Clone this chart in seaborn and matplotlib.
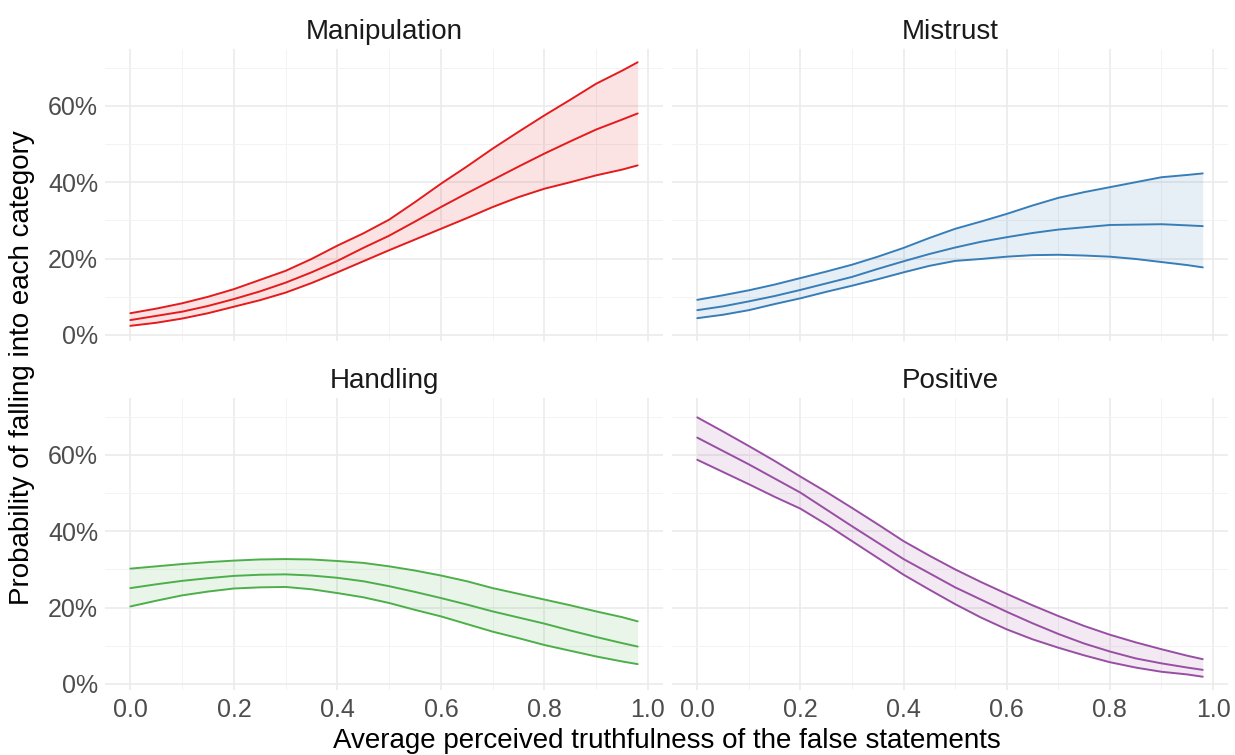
import numpy as np
import pandas as pd
import matplotlib
matplotlib.use("Agg")
import matplotlib.pyplot as plt
from matplotlib.ticker import FixedLocator
import seaborn as sns

# ---- data ----
x_vals = [0.0, 0.05, 0.1, 0.15, 0.2, 0.25, 0.3, 0.35, 0.4, 0.45, 0.5,
          0.55, 0.6, 0.65, 0.7, 0.75, 0.8, 0.85, 0.9, 0.95, 0.98]

categories = ["Manipulation", "Mistrust", "Handling", "Positive"]
colors = ["#E41A1C", "#377EB8", "#4DAF4A", "#984EA3"]

manip_mid = [0.039, 0.050, 0.061, 0.076, 0.094, 0.114, 0.137, 0.164, 0.194, 0.228, 0.260,
             0.297, 0.335, 0.371, 0.406, 0.441, 0.475, 0.507, 0.538, 0.564, 0.580]
manip_lo = [0.024, 0.032, 0.043, 0.057, 0.074, 0.091, 0.111, 0.136, 0.164, 0.193, 0.222,
            0.250, 0.278, 0.306, 0.335, 0.361, 0.383, 0.400, 0.418, 0.433, 0.444]
manip_hi = [0.057, 0.069, 0.083, 0.100, 0.120, 0.144, 0.168, 0.199, 0.234, 0.266, 0.302,
            0.348, 0.396, 0.441, 0.488, 0.532, 0.575, 0.616, 0.658, 0.692, 0.714]

mist_mid = [0.065, 0.075, 0.088, 0.102, 0.118, 0.135, 0.152, 0.173, 0.193, 0.212, 0.229,
            0.244, 0.256, 0.267, 0.276, 0.282, 0.288, 0.289, 0.290, 0.287, 0.285]
mist_lo = [0.044, 0.053, 0.065, 0.081, 0.096, 0.113, 0.129, 0.146, 0.164, 0.181, 0.194,
           0.199, 0.205, 0.209, 0.210, 0.208, 0.205, 0.199, 0.191, 0.183, 0.177]
mist_hi = [0.092, 0.104, 0.117, 0.132, 0.149, 0.166, 0.184, 0.205, 0.228, 0.254, 0.278,
           0.297, 0.317, 0.339, 0.359, 0.374, 0.387, 0.400, 0.413, 0.419, 0.423]

hand_mid = [0.251, 0.261, 0.270, 0.277, 0.283, 0.286, 0.287, 0.284, 0.278, 0.269, 0.256,
            0.241, 0.225, 0.208, 0.190, 0.174, 0.158, 0.140, 0.123, 0.107, 0.098]
hand_lo = [0.203, 0.218, 0.232, 0.242, 0.250, 0.253, 0.254, 0.248, 0.238, 0.227, 0.212,
           0.194, 0.177, 0.157, 0.137, 0.120, 0.102, 0.087, 0.072, 0.059, 0.052]
hand_hi = [0.302, 0.308, 0.314, 0.319, 0.323, 0.326, 0.327, 0.326, 0.322, 0.317, 0.308,
           0.297, 0.284, 0.269, 0.251, 0.236, 0.221, 0.206, 0.190, 0.175, 0.164]

pos_mid = [0.645, 0.610, 0.575, 0.538, 0.501, 0.457, 0.413, 0.370, 0.327, 0.290, 0.253,
           0.221, 0.189, 0.159, 0.131, 0.106, 0.085, 0.067, 0.054, 0.043, 0.037]
pos_lo = [0.587, 0.555, 0.523, 0.490, 0.459, 0.418, 0.374, 0.330, 0.286, 0.247, 0.209,
          0.174, 0.143, 0.117, 0.095, 0.075, 0.057, 0.043, 0.032, 0.025, 0.019]
pos_hi = [0.698, 0.661, 0.623, 0.584, 0.543, 0.503, 0.461, 0.418, 0.374, 0.336, 0.300,
          0.267, 0.236, 0.206, 0.178, 0.152, 0.129, 0.109, 0.091, 0.074, 0.065]

series = {
    "Manipulation": (manip_mid, manip_lo, manip_hi),
    "Mistrust": (mist_mid, mist_lo, mist_hi),
    "Handling": (hand_mid, hand_lo, hand_hi),
    "Positive": (pos_mid, pos_lo, pos_hi),
}

x_ticks = [0.0, 0.2, 0.4, 0.6, 0.8, 1.0]
x_tick_labels = ["0.0", "0.2", "0.4", "0.6", "0.8", "1.0"]
y_ticks = [0.0, 0.2, 0.4, 0.6]
y_tick_labels = ["0%", "20%", "40%", "60%"]

# ---- style ----
sns.set_theme(style="whitegrid")
plt.rcParams["font.family"] = ["Liberation Sans", "DejaVu Sans"]

fig = plt.figure(figsize=(12.35, 7.55), dpi=100)

W, H = 1235.0, 755.0
panel_boxes = [
    (105, 49, 663, 341),
    (672, 49, 1228, 341),
    (105, 398, 663, 690),
    (672, 398, 1228, 690),
]

allvals = [v for k in series for arr in series[k] for v in arr]
ymin, ymax = min(allvals), max(allvals)
ypad = (ymax - ymin) * 0.05
xmin, xmax = min(x_vals), max(x_vals)
xpad = (xmax - xmin) * 0.05

major_grid = "#EBEBEB"
minor_grid = "#F3F3F3"

for i, (cat, col) in enumerate(zip(categories, colors)):
    l, t, r, b = panel_boxes[i]
    ax = fig.add_axes([l / W, (H - b) / H, (r - l) / W, (b - t) / H])
    mid, lo, hi = series[cat]
    df = pd.DataFrame({"x": x_vals, "mid": mid, "lo": lo, "hi": hi})
    ax.fill_between(df["x"], df["lo"], df["hi"], color=col, alpha=0.12, linewidth=0)
    for cname in ["lo", "mid", "hi"]:
        sns.lineplot(data=df, x="x", y=cname, ax=ax, color=col, linewidth=1.4)

    ax.set_xlim(xmin - xpad, xmax + xpad)
    ax.set_ylim(ymin - ypad, ymax + ypad)

    ax.xaxis.set_major_locator(FixedLocator(x_ticks))
    ax.xaxis.set_minor_locator(FixedLocator([0.1, 0.3, 0.5, 0.7, 0.9]))
    ax.yaxis.set_major_locator(FixedLocator(y_ticks))
    ax.yaxis.set_minor_locator(FixedLocator([0.1, 0.3, 0.5, 0.7]))
    ax.grid(which="major", color=major_grid, linewidth=1.2)
    ax.grid(which="minor", color=minor_grid, linewidth=0.7)
    ax.set_axisbelow(True)
    for s in ax.spines.values():
        s.set_visible(False)
    ax.set_facecolor("white")
    ax.tick_params(which="both", length=0, labelsize=18, labelcolor="#4D4D4D")
    ax.tick_params(axis="x", pad=6)
    ax.tick_params(axis="y", pad=5)

    if i >= 2:
        ax.set_xticklabels(x_tick_labels)
    else:
        ax.set_xticklabels([])
    if i % 2 == 0:
        ax.set_yticklabels(y_tick_labels)
    else:
        ax.set_yticklabels([])
    ax.set_xlabel("")
    ax.set_ylabel("")
    ax.set_title(cat, fontsize=20, color="#1A1A1A", pad=7)

fig.text(0.5 * (105 + 1228) / W, 1 - 741 / H,
         "Average perceived truthfulness of the false statements",
         ha="center", va="center", fontsize=20, color="black")
fig.text(22 / W, 1 - 368 / H, "Probability of falling into each category",
         ha="center", va="center", rotation=90, fontsize=20, color="black")

fig.savefig("out.png", dpi=100, facecolor="white")
